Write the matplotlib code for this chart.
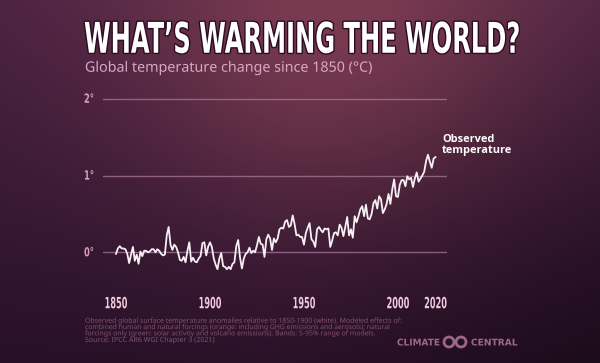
import numpy as np
import matplotlib
matplotlib.use('Agg')
import matplotlib.pyplot as plt
from matplotlib.patheffects import AbstractPathEffect
from matplotlib.transforms import Affine2D, blended_transform_factory
from matplotlib.patches import Ellipse
from matplotlib.colors import to_rgba

# observed global temperature change vs 1850-1900
years = np.arange(1850, 2021)
temps = [
    -0.02, 0.05, 0.08, 0.05, 0.05, 0.04, -0.02, -0.14, -0.03, 0.07,   # 1850s
    -0.11, -0.03, -0.15, 0.01, -0.05, 0.02, 0.02, 0.00, 0.01, 0.04,   # 1860s
    0.04, 0.00, 0.04, 0.02, -0.02, -0.04, -0.03, 0.22, 0.33, 0.10,    # 1870s
    0.03, 0.10, 0.07, 0.00, -0.10, -0.11, -0.06, -0.13, 0.02, 0.13,   # 1880s
    -0.12, -0.07, -0.12, -0.13, -0.08, -0.05, 0.12, 0.13, -0.04, 0.07,  # 1890s
    0.13, 0.07, -0.08, -0.16, -0.22, -0.08, -0.01, -0.18, -0.19, -0.22,  # 1900s
    -0.19, -0.22, -0.15, -0.13, 0.08, 0.16, -0.07, -0.21, -0.08, -0.02,  # 1910s
    0.00, 0.06, -0.01, 0.02, 0.00, 0.09, 0.20, 0.11, 0.10, -0.06,     # 1920s
    0.17, 0.23, 0.18, 0.03, 0.18, 0.13, 0.18, 0.30, 0.32, 0.31,       # 1930s
    0.40, 0.42, 0.33, 0.35, 0.48, 0.37, 0.22, 0.23, 0.20, 0.20,       # 1940s
    0.10, 0.25, 0.32, 0.38, 0.17, 0.14, 0.07, 0.30, 0.33, 0.29,       # 1950s
    0.26, 0.31, 0.30, 0.31, 0.07, 0.15, 0.25, 0.26, 0.22, 0.36,       # 1960s
    0.32, 0.21, 0.33, 0.46, 0.22, 0.30, 0.19, 0.47, 0.39, 0.47,       # 1970s
    0.56, 0.60, 0.47, 0.62, 0.44, 0.43, 0.50, 0.64, 0.68, 0.57,       # 1980s
    0.73, 0.69, 0.51, 0.56, 0.63, 0.76, 0.63, 0.82, 0.95, 0.73,       # 1990s
    0.72, 0.88, 0.94, 0.94, 0.86, 0.99, 0.95, 0.97, 0.85, 0.96,       # 2000s
    1.04, 0.92, 0.96, 1.00, 1.05, 1.19, 1.27, 1.18, 1.10, 1.22,       # 2010s
    1.24,
]

y_ticks = [0, 1, 2]
y_tick_labels = ['0°', '1°', '2°']
x_ticks = [1850, 1900, 1950, 2000, 2020]
x_tick_labels = ['1850', '1900', '1950', '2000', '2020']

title = 'WHAT’S WARMING THE WORLD?'
subtitle = 'Global temperature change since 1850 (°C)'
line_label = 'Observed\ntemperature'
notes = [
    'Observed global surface temperature anomalies relative to 1850-1900 (white). Modeled effects of:',
    'combined human and natural forcings (orange: including GHG emissions and aerosols); natural',
    'forcings only (green: solar activity and volcano emissions). Bands: 5-95% range of models.',
    'Source: IPCC AR6 WGI Chapter 3 (2021)',
]

W, H = 600, 363


class Fit(AbstractPathEffect):
    # squeeze / stretch the drawn glyphs so they fill a given box (px)
    def __init__(self, w=None, h=None, cond=1.0, ha='left', va='bottom', stroke=None, lw=0):
        super().__init__()
        self.w, self.h, self.cond = w, h, cond
        self.ha, self.va = ha, va
        self.stroke, self.lw = stroke, lw

    def draw_path(self, renderer, gc, tpath, affine, rgbFace=None):
        bb = tpath.get_extents(affine)
        if self.w and self.h:
            sx, sy = self.w / bb.width, self.h / bb.height
        elif self.w:
            sx = sy = self.w / bb.width
        else:
            sy = self.h / bb.height
            sx = sy * self.cond
        ax_ = {'left': bb.x0, 'center': (bb.x0 + bb.x1) / 2, 'right': bb.x1}[self.ha]
        ay_ = {'bottom': bb.y0, 'center': (bb.y0 + bb.y1) / 2, 'top': bb.y1}[self.va]
        aff = affine + Affine2D().translate(-ax_, -ay_).scale(sx, sy).translate(ax_, ay_)
        if self.stroke:
            gc0 = renderer.new_gc()
            gc0.copy_properties(gc)
            gc0.set_foreground(self.stroke)
            gc0.set_linewidth(self.lw)
            gc0.set_joinstyle('round')
            renderer.draw_path(gc0, tpath, aff, to_rgba(self.stroke))
            gc0.restore()
        renderer.draw_path(gc, tpath, aff, rgbFace)


def px(x, y):
    return x / W, 1 - y / H


fig = plt.figure(figsize=(W / 100, H / 100), dpi=100)

# background: dark plum with a warm glow at the top
yy, xx = np.mgrid[0:H, 0:W]
u, v = xx / W, yy / H
top = np.array([0x4a, 0x22, 0x42]) / 255
bottom = np.array([0x27, 0x10, 0x27]) / 255
glow_c = np.array([0x7a, 0x3b, 0x50]) / 255
base = top * (1 - v[..., None]) + bottom * v[..., None]
g = np.exp(-(((u - 0.56) / 0.36) ** 2 + (v / 0.55) ** 2))[..., None]
img = base * (1 - g) + glow_c * g
dark = (np.clip((u - 0.45) * 1.8, 0, 1) * v)[..., None]
img = img * (1 - 0.3 * dark)
bg = fig.add_axes([0, 0, 1, 1])
bg.imshow(np.clip(img, 0, 1), aspect='auto', extent=[0, 1, 0, 1], interpolation='bilinear')
bg.axis('off')

# plot area: 1850 -> x=116px, 2020 -> x=435.5px ; 0 deg -> y=252.3px, 76.8 px per degree
x_per_year = (435.5 - 116) / 170
left_px, right_px, top_px, bot_px = 103, 447, 90, 290
ax = fig.add_axes([left_px / W, 1 - bot_px / H, (right_px - left_px) / W, (bot_px - top_px) / H])
ax.set_facecolor('none')
ax.set_xlim(1850 - (116 - left_px) / x_per_year, 1850 + (right_px - 116) / x_per_year)
ax.set_ylim((252.3 - bot_px) / 76.8, (252.3 - top_px) / 76.8)

ax.plot(years, temps, color='#f6f0f4', lw=1.3, solid_joinstyle='round', zorder=3)

ax.set_yticks(y_ticks)
ax.set_xticks([])
ax.tick_params(axis='y', length=0, labelleft=False)
ax.grid(axis='y', color='#a9779a', alpha=0.75, lw=1.0)
for s in ax.spines.values():
    s.set_visible(False)

ty = blended_transform_factory(ax.transAxes, ax.transData)
for t, lab in zip(y_ticks, y_tick_labels):
    ax.text((89 - left_px) / (right_px - left_px), t, lab, transform=ty, ha='center', va='center',
            color='#d9a0bd', family='DejaVu Sans', weight='bold', fontsize=7,
            path_effects=[Fit(h=9.5, cond=0.66, ha='center', va='center')])

tx = blended_transform_factory(ax.transData, ax.transAxes)
for yr, lab in zip(x_ticks, x_tick_labels):
    ax.text(yr, (bot_px - 308.3) / (bot_px - top_px), lab, transform=tx, ha='center', va='baseline',
            color='#f2c8dd', family='DejaVu Sans', weight='bold', fontsize=7,
            path_effects=[Fit(h=11.7, cond=0.53, ha='center', va='bottom')])

# headings
fig.text(*px(84, 53), title, ha='left', va='baseline', color='white', family='DejaVu Sans',
         weight='bold', fontsize=18,
         path_effects=[Fit(w=434, h=32, stroke='#2c0c20', lw=2.0)])
fig.text(*px(85, 72), subtitle, ha='left', va='baseline', color='#d8a8c2', family='Noto Sans',
         fontsize=9.5, path_effects=[Fit(w=286)])

# series label (baseline of the last line)
fig.text(*px(442, 152.5), line_label, ha='left', va='baseline', color='white',
         family=['Open Sans', 'DejaVu Sans'], weight='bold', fontsize=7.9, linespacing=0.95)

# footnote
note_y = [323, 329.3, 335.6, 342.3]
note_w = [316, 304, 290, 129]
for txt, yb, wd in zip(notes, note_y, note_w):
    fig.text(*px(85, yb), txt, ha='left', va='baseline', color='#83526f', family='Noto Sans',
             fontsize=4.3, path_effects=[Fit(w=wd)])

# Climate Central logo
logo_c = '#9c6886'
fig.text(*px(397, 345.5), 'CLIMATE', ha='left', va='baseline', color=logo_c, family='DejaVu Sans',
         weight='bold', fontsize=5.5, path_effects=[Fit(w=42, h=7)])
fig.text(*px(471, 345.5), 'CENTRAL', ha='left', va='baseline', color=logo_c, family='DejaVu Sans',
         weight='bold', fontsize=5.5, path_effects=[Fit(w=46, h=7)])
for cx in (449, 461):
    fig.add_artist(Ellipse(px(cx, 342), 10 / W, 10 / H, fill=False, ec=logo_c, lw=2.0))

fig.savefig('out.png', dpi=100)
